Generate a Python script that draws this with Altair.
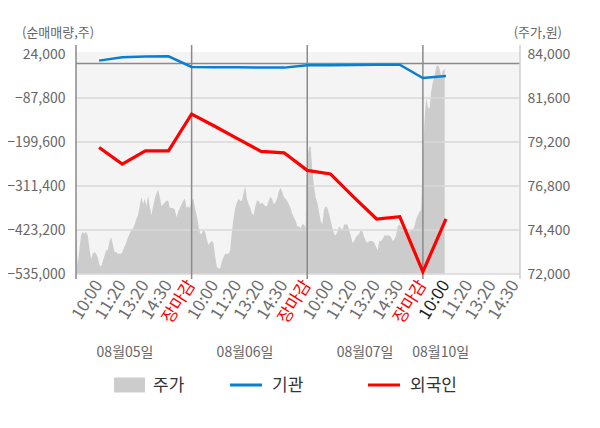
import altair as alt
import pandas as pd

FONT = "Noto Sans CJK KR"

# ---------------- data ----------------
DATES = ["08월05일", "08월06일", "08월07일", "08월10일"]
TIME_LABELS = ["10:00", "11:20", "13:20", "14:30", "장마감"]
LEGEND_NAMES = ["주가", "기관", "외국인"]

# net buying (shares), one point per time label
INSTITUTION = [7200, 15600, 17400, 18100, -8900,
               -9400, -9900, -10600, -10600, -4800,
               -4300, -3800, -3500, -3000, -36900,
               -31800]
FOREIGN = [-213600, -255900, -222000, -222000, -128500,
           -159600, -191500, -223300, -227100, -271700,
           -280600, -339200, -395200, -389300, -529400,
           -395200]

# intraday price (won)
PRICE_0805 = [74100, 72500, 73300, 74100, 74300, 74200, 74300, 74100, 73400, 72800,
              73100, 73200, 73100, 72900, 72500, 72400, 72700, 73000, 73300, 73300,
              73800, 74000, 73600, 73200, 73200, 73100, 73100, 73100, 73300, 73500,
              73700, 74000, 74200, 74400, 74500, 74700, 75000, 75200, 75700, 76200,
              75800, 76100, 75700, 76300, 75700, 75200, 75700, 76100, 76400, 76600,
              76200, 75700, 75800, 75900, 76000, 76000, 75600, 75600, 75600, 75500,
              75100, 75400, 75600, 75800, 76000, 76100, 75600, 75700, 75600]
PRICE_0806 = [76000, 76100, 75600, 75200, 74700, 74200, 74200, 74400, 74300, 73900,
              73600, 73700, 73800, 73700, 73000, 72400, 72300, 72300, 72700, 72900,
              73100, 73100, 73100, 73300, 74300, 75000, 75600, 75900, 76100, 76000,
              76000, 76400, 76800, 76100, 75800, 75600, 75300, 75200, 75700, 76000,
              76000, 75800, 75900, 75800, 75700, 75700, 76000, 76200, 76100, 75800,
              75900, 76100, 76500, 76700, 76500, 76200, 76100, 76000, 75800, 75600,
              75300, 75100, 74900, 74600, 74600, 74500, 74700, 74700, 74500]
PRICE_0807 = [78200, 78900, 79000, 77700, 76800, 76200, 75900, 75400, 74900, 74700,
              75500, 75700, 75600, 75300, 74900, 74500, 74200, 74100, 74300, 74600,
              74500, 74400, 74700, 74700, 74700, 74400, 74100, 73700, 73800, 74000,
              74100, 74200, 74400, 74300, 74000, 73800, 73700, 73800, 73800, 73800,
              73700, 73500, 73300, 73800, 73800, 73900, 74100, 74100, 74100, 74100,
              74000, 73800, 73900, 74100, 74600, 74700, 74600, 74500, 74400, 74400,
              74300, 74300, 74400, 74400, 74600, 75000, 75200, 75400, 75500]
PRICE_0810 = [78300, 80400, 81600, 81100, 81000, 82000, 82500, 82800, 83300, 83400,
              83200, 82800, 83100, 83200]
PRICE_DAYS = [PRICE_0805, PRICE_0806, PRICE_0807, PRICE_0810]

LEFT_TICKS = [24000, -87800, -199600, -311400, -423200, -535000]
RIGHT_TICKS = [84000, 81600, 79200, 76800, 74400, 72000]

# ---------------- layout / style ----------------
W, H = 444, 222
SLOTS_PER_DAY = 69          # price samples per full session
SLOT_WIDTH = 5              # x units per day (5 labels per day)
X_MAX = 19.2
N_TICKS = 19
CURRENT_TICK = 16
DATE_LABEL_X = [2.12, 7.31, 12.5, 15.77]
GRAY_TXT = "#666666"
BLUE = "#0a7fcf"
RED = "#ff0000"
AREA_GRAY = "#cccccc"

price_rows = []
for d, arr in enumerate(PRICE_DAYS):
    for k, v in enumerate(arr):
        price_rows.append({"x": SLOT_WIDTH * d + SLOT_WIDTH * k / SLOTS_PER_DAY, "price": v})
price_df = pd.DataFrame(price_rows)

line_df = pd.DataFrame({
    "x": [i + 1 for i in range(len(FOREIGN))],
    "foreign": FOREIGN,
    "inst": INSTITUTION,
})
tick_rows = []
for t in range(1, N_TICKS + 1):
    kind = "close" if t % SLOT_WIDTH == 0 else ("now" if t == CURRENT_TICK else "time")
    tick_rows.append({"x": t, "label": TIME_LABELS[(t - 1) % SLOT_WIDTH], "kind": kind})
tick_df = pd.DataFrame(tick_rows)

grid_df = pd.DataFrame({"v": LEFT_TICKS[1:]})
sep_df = pd.DataFrame({"x": [SLOT_WIDTH * d for d in range(len(DATES))]})
date_df = pd.DataFrame({"pos": DATE_LABEL_X, "label": DATES})
one = pd.DataFrame({"a": [0]})

XS = alt.Scale(domain=[0, X_MAX], nice=False, zero=False)
YL = alt.Scale(domain=[-535000, 29100], nice=False, zero=False)
YR = alt.Scale(domain=[72000, 84110], nice=False, zero=False)

area = alt.Chart(price_df).mark_area(color=AREA_GRAY, opacity=1).encode(
    x=alt.X("x:Q", scale=XS, axis=alt.Axis(
        labels=False, ticks=False, grid=False, domainColor="#aaaaaa",
        domainWidth=1.5, title=None)),
    y=alt.Y("price:Q", scale=YR, axis=alt.Axis(
        orient="right", values=RIGHT_TICKS, format=",.0f", ticks=False,
        domain=False, grid=False, labelPadding=7, labelFontSize=14,
        labelColor=GRAY_TXT, labelFont=FONT, title=None)),
    y2=alt.Y2Datum(72000),
)

grid = alt.Chart(grid_df).mark_rule(color="#d9d9d9", strokeWidth=1.5).encode(
    y=alt.Y("v:Q", scale=YL, axis=None)
)

zero = alt.Chart(one).mark_rule(color="#8a8a8a", strokeWidth=1.5).encode(
    y=alt.YDatum(0, scale=YL, axis=None)
)

seps = alt.Chart(sep_df).mark_rule(color="#8a8a8a", strokeWidth=1.5).encode(
    x=alt.X("x:Q", scale=XS, axis=None),
    y=alt.value(-7), y2=alt.value(H + 5),
)
right_edge = alt.Chart(one).mark_rule(color="#cfcfcf", strokeWidth=1.5).encode(
    x=alt.XDatum(X_MAX, scale=XS, axis=None),
    y=alt.value(-7), y2=alt.value(H + 5),
)

inst_line = alt.Chart(line_df).mark_line(color=BLUE, strokeWidth=2.5).encode(
    x=alt.X("x:Q", scale=XS, axis=None),
    y=alt.Y("inst:Q", scale=YL, axis=alt.Axis(
        orient="left", values=LEFT_TICKS, format=",.0f", ticks=False,
        domain=False, grid=False, labelPadding=11, labelFontSize=14,
        labelColor=GRAY_TXT, labelFont=FONT, title=None)),
)
foreign_line = alt.Chart(line_df).mark_line(color=RED, strokeWidth=3.2).encode(
    x=alt.X("x:Q", scale=XS, axis=None),
    y=alt.Y("foreign:Q", scale=YL, axis=None),
)

tick_labels = alt.Chart(tick_df).mark_text(
    font=FONT, fontSize=17, angle=302, align="right", baseline="middle"
).encode(
    x=alt.X("x:Q", scale=XS, axis=None),
    y=alt.value(H + 8),
    text="label:N",
    color=alt.Color("kind:N", scale=alt.Scale(domain=["time", "close", "now"],
                                              range=["#6e6e6e", RED, "#222222"]), legend=None),
)

title_l = alt.Chart(one).mark_text(
    text="(순매매량,주)", font=FONT, fontSize=13, color=GRAY_TXT, align="left", baseline="middle"
).encode(x=alt.value(-54), y=alt.value(-19))
title_r = alt.Chart(one).mark_text(
    text="(주가,원)", font=FONT, fontSize=13, color=GRAY_TXT, align="right", baseline="middle"
).encode(x=alt.value(486), y=alt.value(-19))

dates = alt.Chart(date_df).mark_text(
    font=FONT, fontSize=14, color=GRAY_TXT, align="center", baseline="middle"
).encode(x=alt.X("pos:Q", scale=XS, axis=None), y=alt.value(301), text="label:N")

LEG_Y = 333
leg_rect = alt.Chart(one).mark_rect(color=AREA_GRAY).encode(
    x=alt.value(38), x2=alt.value(69), y=alt.value(LEG_Y - 7.5), y2=alt.value(LEG_Y + 7.5))
leg_blue = alt.Chart(one).mark_rule(color=BLUE, strokeWidth=3).encode(
    x=alt.value(154), x2=alt.value(186), y=alt.value(LEG_Y))
leg_red = alt.Chart(one).mark_rule(color=RED, strokeWidth=3).encode(
    x=alt.value(292), x2=alt.value(324), y=alt.value(LEG_Y))
leg_texts = [
    alt.Chart(one).mark_text(text=t, font=FONT, fontSize=17, color="#333333",
                             align="left", baseline="middle").encode(x=alt.value(px), y=alt.value(LEG_Y + 1))
    for t, px in zip(LEGEND_NAMES, [77, 196, 334])
]

chart = alt.layer(
    area, grid, zero, seps, right_edge, inst_line, foreign_line, tick_labels,
    title_l, title_r, dates, leg_rect, leg_blue, leg_red, *leg_texts
).resolve_scale(y="independent").properties(
    width=W, height=H,
    autosize=alt.AutoSizeParams(type="none"),
    padding={"left": 68, "top": 44, "right": 64, "bottom": 140},
).configure_view(fill="#f4f4f4", strokeWidth=0)

chart.save("out.html", embed_options={"renderer": "svg", "actions": False})
